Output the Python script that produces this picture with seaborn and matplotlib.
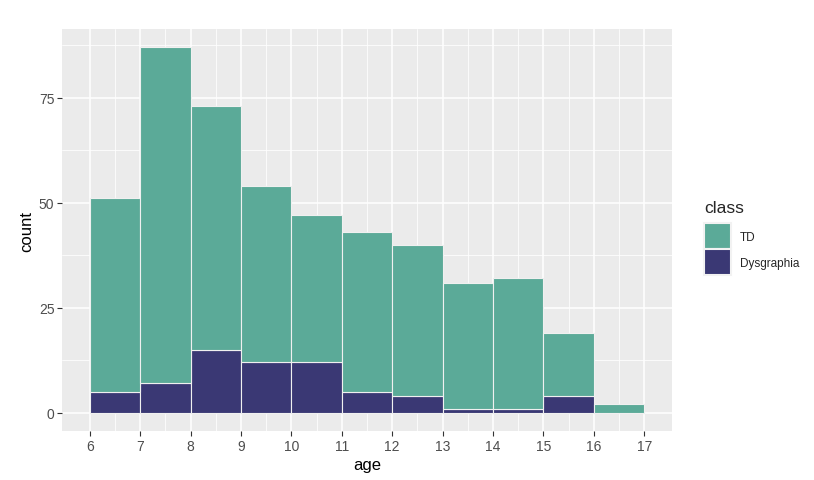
import numpy as np
import pandas as pd
import matplotlib
matplotlib.use('Agg')
import matplotlib.pyplot as plt
import seaborn as sns
from matplotlib.patches import Patch

# counts per 1-year age bin (6-7, 7-8, ..., 16-17)
bin_start = [6, 7, 8, 9, 10, 11, 12, 13, 14, 15, 16]
total = [51, 87, 73, 54, 47, 43, 40, 31, 32, 19, 2]
dysgraphia = [5, 7, 15, 12, 12, 5, 4, 1, 1, 4, 0]
td = [t - d for t, d in zip(total, dysgraphia)]

classes = ['TD', 'Dysgraphia']
colors = {'TD': '#5BAA98', 'Dysgraphia': '#3A3874'}

rows = []
for b, n_td, n_d in zip(bin_start, td, dysgraphia):
    rows.append({'age': b + 0.5, 'class': 'TD', 'n': n_td})
    rows.append({'age': b + 0.5, 'class': 'Dysgraphia', 'n': n_d})
df = pd.DataFrame(rows)

sns.set_theme(style='darkgrid')
plt.rcParams['font.family'] = ['Liberation Sans', 'DejaVu Sans']

fig = plt.figure(figsize=(8.14, 4.81), dpi=100)
ax = fig.add_axes([0.0762, 0.1019, 0.7494, 0.8357])
ax.set_facecolor('#EBEBEB')

sns.histplot(data=df, x='age', weights='n', hue='class', hue_order=classes,
             multiple='stack', binwidth=1, binrange=(6, 17), palette=colors,
             alpha=1, edgecolor='#F0F0F0', linewidth=0.8, legend=False, ax=ax)

ax.set_xlim(5.45, 17.55)
ax.set_ylim(-4.35, 91.35)
ax.set_xticks(range(6, 18))
ax.set_yticks([0, 25, 50, 75])
ax.set_xticks(np.arange(6.5, 17, 1), minor=True)
ax.set_yticks([12.5, 37.5, 62.5, 87.5], minor=True)
ax.grid(which='major', color='white', linewidth=1.1)
ax.grid(which='minor', color='white', linewidth=0.55)
ax.set_axisbelow(True)
for s in ax.spines.values():
    s.set_visible(False)
ax.tick_params(which='major', bottom=True, left=True, length=3.5, width=0.8,
               color='#333333', labelsize=10, labelcolor='#4D4D4D', pad=2)
ax.tick_params(which='minor', bottom=False, left=False, length=0)
ax.set_xlabel('age', fontsize=12, color='black', labelpad=3)
ax.set_ylabel('count', fontsize=12, color='black', labelpad=3)

handles = [Patch(facecolor=colors[c], edgecolor='#F2F2F2', linewidth=1.5) for c in classes]
leg = fig.legend(handles, classes, title='class', loc='upper left',
                 bbox_to_anchor=(0.852, 0.604), frameon=False,
                 handlelength=2.3, handleheight=3.0, handletextpad=0.7,
                 labelspacing=0.0, fontsize=8.5, title_fontsize=12.5)
leg._legend_box.align = 'left'
leg._legend_box.sep = 6

fig.savefig('out.png', dpi=100)
